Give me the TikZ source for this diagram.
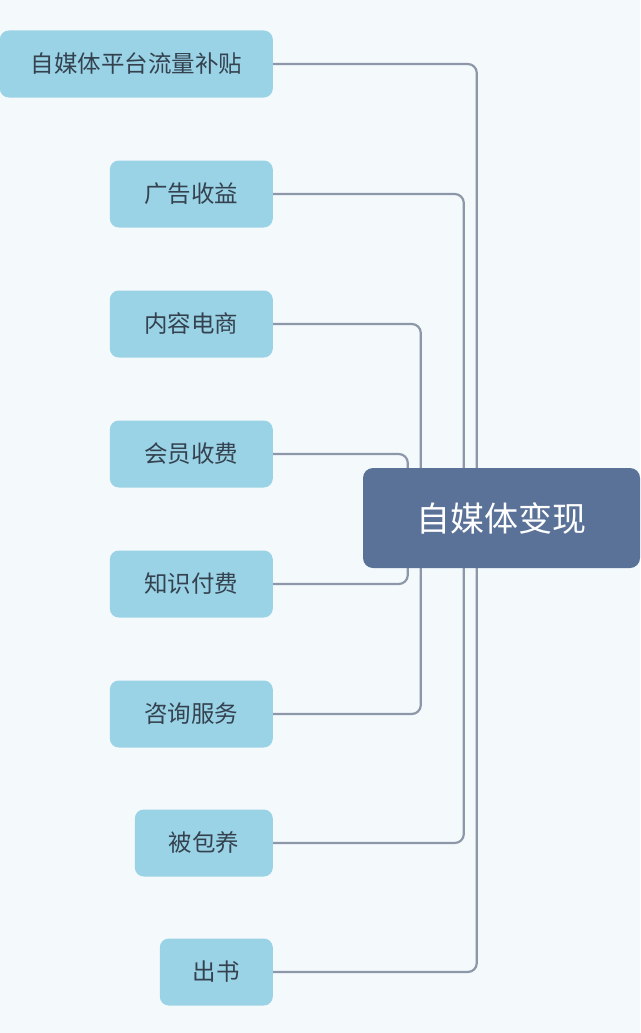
\documentclass[tikz,border=0pt]{standalone}
\usepackage{fontspec}
\setmainfont{Noto Sans CJK SC}
\usetikzlibrary{calc,backgrounds}
\definecolor{bgpage}{HTML}{F4F9FC}
\definecolor{leafblue}{HTML}{9BD3E6}
\definecolor{rootblue}{HTML}{5A7298}
\definecolor{linkgray}{HTML}{8C98A8}
\definecolor{inkgray}{HTML}{34424F}
\tikzset{
  leaf/.style={fill=leafblue, rounded corners=9pt, minimum height=67pt, anchor=east,
    inner xsep=0pt, text=inkgray, font=\fontsize{23.5pt}{26pt}\selectfont},
  root/.style={fill=rootblue, rounded corners=10pt, minimum width=277pt, minimum height=100pt,
    text=white, font=\fontsize{34pt}{38pt}\selectfont},
  link/.style={draw=linkgray, line width=2.2pt, rounded corners=9pt}
}
\begin{document}
\begin{tikzpicture}[x=1pt, y=-1pt]
            \useasboundingbox (0,0) rectangle (640,1033);
            % Centre topic
            \node[root] (R) at (501.5,518) {自媒体变现};

            % Leaves on the left
            \node[leaf, minimum width=273pt] (L1) at (273,64) {自媒体平台流量补贴};
            \node[leaf, minimum width=163pt] (L2) at (273,194) {广告收益};
            \node[leaf, minimum width=163pt] (L3) at (273,324) {内容电商};
            \node[leaf, minimum width=163pt] (L4) at (273,454) {会员收费};
            \node[leaf, minimum width=163pt] (L5) at (273,584) {知识付费};
            \node[leaf, minimum width=163pt] (L6) at (273,714) {咨询服务};
            \node[leaf, minimum width=138pt] (L7) at (273,843) {被包养};
            \node[leaf, minimum width=113pt] (L8) at (273,972) {出书};

            % Page and links, behind the centre topic
            \begin{scope}[on background layer]
            \fill[bgpage] (0,0) rectangle (640,1033);
            \draw[link] (L1.east) -| ($(R.west)+(114,0)$);
            \draw[link] (L8.east) -| ($(R.west)+(114,0)$);
            \draw[link] (L2.east) -| ($(R.west)+(101,0)$);
            \draw[link] (L7.east) -| ($(R.west)+(101,0)$);
            \draw[link] (L3.east) -| ($(R.west)+(58,0)$);
            \draw[link] (L6.east) -| ($(R.west)+(58,0)$);
            \draw[link] (L4.east) -| ($(R.west)+(45,0)$);
            \draw[link] (L5.east) -| ($(R.west)+(45,0)$);
            \end{scope}
\end{tikzpicture}
\end{document}
